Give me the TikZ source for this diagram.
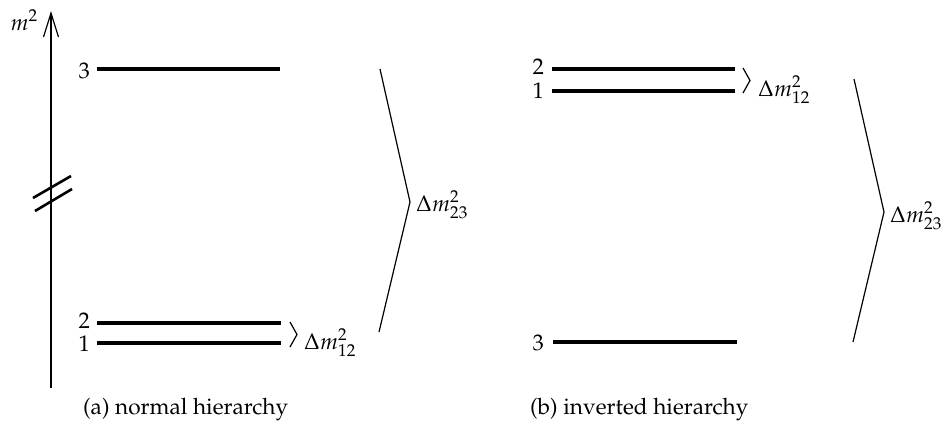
\documentclass[tikz,border=0pt]{standalone}
\usepackage[T1]{fontenc}
\usepackage{mathpazo}
\usetikzlibrary{arrows.meta}
\begin{document}
\begin{tikzpicture}[x=1pt,y=-1pt,
  level/.style={line width=3.2pt},
  thin/.style={line width=1.2pt},
  brk/.style={line width=2.6pt},
  lbl/.style={inner sep=0pt,font=\fontsize{22.6}{27}\selectfont},
]
\useasboundingbox (0,0) rectangle (944,437);
% axis
\coordinate (ax0) at (51,388);
\coordinate (ax1) at (51,11);
\draw[thin,-{Straight Barb[length=24pt,width=15pt]}] (ax0) -- (ax1);
\node[lbl,anchor=base east] (m2) at (38,30) {$m^2$};
% axis break
\coordinate (b1s) at (33,198); \coordinate (b1e) at (71,176);
\coordinate (b2s) at (35,211); \coordinate (b2e) at (72,189);
\draw[brk] (b1s) -- (b1e);
\draw[brk] (b2s) -- (b2e);
% (a) normal hierarchy
\coordinate (a3l) at (97,69);  \coordinate (a3r) at (280,69);
\coordinate (a2l) at (97,323); \coordinate (a2r) at (281,323);
\coordinate (a1l) at (97,343); \coordinate (a1r) at (281,343);
\draw[level] (a3l) -- (a3r);
\draw[level] (a2l) -- (a2r);
\draw[level] (a1l) -- (a1r);
\node[lbl,anchor=base east] (la3) at (90,78) {3};
\node[lbl,anchor=base east] (la2) at (90,328) {2};
\node[lbl,anchor=base east] (la1) at (90,351) {1};
\coordinate (ra1) at (290,322); \coordinate (ra2) at (297,334.5); \coordinate (ra3) at (290,347);
\draw[thin] (ra1) -- (ra2) -- (ra3);
\node[lbl,anchor=base west] (da12) at (304,349) {$\Delta m^2_{12}$};
\coordinate (ba1) at (380,69); \coordinate (ba2) at (410,202); \coordinate (ba3) at (379,332);
\draw[thin] (ba1) -- (ba2) -- (ba3);
\node[lbl,anchor=base west] (da23) at (416,211) {$\Delta m^2_{23}$};
% (b) inverted hierarchy
\coordinate (b2l) at (552,69);  \coordinate (b2r) at (735,69);
\coordinate (b1l) at (552,91);  \coordinate (b1r) at (735,91);
\coordinate (b3l) at (553,342); \coordinate (b3r) at (737,342);
\draw[level] (b2l) -- (b2r);
\draw[level] (b1l) -- (b1r);
\draw[level] (b3l) -- (b3r);
\node[lbl,anchor=base east] (lb2) at (544,74) {2};
\node[lbl,anchor=base east] (lb1) at (544,98) {1};
\node[lbl,anchor=base east] (lb3) at (544,350) {3};
\coordinate (rb1) at (743,68); \coordinate (rb2) at (750,80.5); \coordinate (rb3) at (743,93);
\draw[thin] (rb1) -- (rb2) -- (rb3);
\node[lbl,anchor=base west] (db12) at (758,96) {$\Delta m^2_{12}$};
\coordinate (bb1) at (854,79); \coordinate (bb2) at (884,212); \coordinate (bb3) at (853,342);
\draw[thin] (bb1) -- (bb2) -- (bb3);
\node[lbl,anchor=base west] (db23) at (890,222) {$\Delta m^2_{23}$};
% captions
\node[lbl,anchor=base west] (capa) at (83,414) {(a) normal hierarchy};
\node[lbl,anchor=base west] (capb) at (530,414) {(b) inverted hierarchy};
\end{tikzpicture}
\end{document}
